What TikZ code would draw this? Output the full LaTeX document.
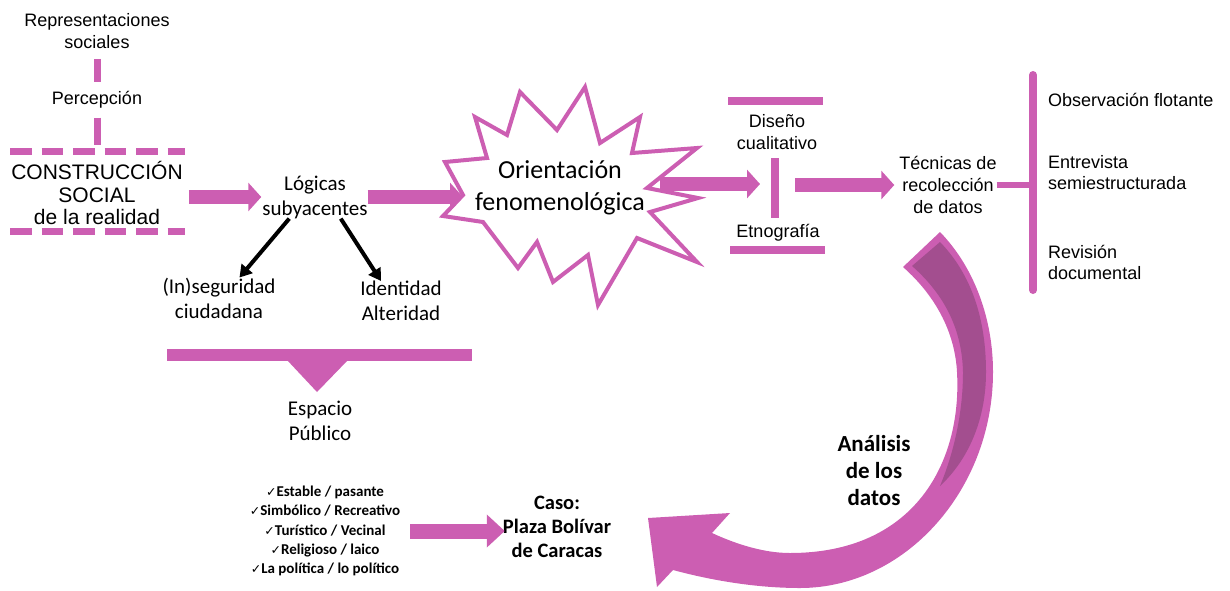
\documentclass[tikz,border=0pt]{standalone}
\usepackage{fontspec}
\setmainfont{Liberation Sans}
\newfontfamily\calib{Carlito}
\newfontfamily\simb{DejaVu Sans}
\usetikzlibrary{arrows.meta,calc}

\definecolor{rosa}{RGB}{204,94,178}
\definecolor{rosaosc}{RGB}{163,78,143}
\newcommand{\chk}{{\simb\fontsize{12.5}{12.5}\selectfont ✓}}

\tikzset{
  txt/.style={inner sep=0pt, align=center, font=\fontsize{18}{22}\selectfont},
  ctxt/.style={inner sep=0pt, align=center, font=\calib\fontsize{21}{25}\selectfont},
  flecharosa/.style={draw=rosa, line width=14pt, -{Triangle[length=13pt,width=28pt]}},
  flecharosab/.style={draw=rosa, line width=15pt, -{Triangle[length=18pt,width=32pt]}},
  flechanegra/.style={draw=black, line width=4pt, -{Triangle[length=12pt,width=14pt]}},
  barrarosa/.style={draw=rosa, line width=7pt},
}

\begin{document}
\begin{tikzpicture}[x=1pt,y=1pt,yscale=-1]
\useasboundingbox (0,0) rectangle (1230,590);

% Text Node
\node[txt] (repr) at (97,31) {Representaciones\\sociales};
% Text Node
\node[txt] (perc) at (97,100) {Percepción};
% Text Node
\node[txt, font=\fontsize{21}{22.5}\selectfont] (cons) at (97,193) {CONSTRUCCIÓN\\SOCIAL\\de la realidad};

%Straight Lines
\draw[barrarosa, shorten <=10pt, shorten >=9pt] (repr.south) -- (perc.north);
\draw[barrarosa, shorten <=9pt, shorten >=16pt] (perc.south) -- (cons.north);
\draw[rosa, line width=7pt, dash pattern=on 21.5pt off 10pt] (10,151) -- (185,151);
\draw[rosa, line width=7pt, dash pattern=on 21.5pt off 10pt] (10,231) -- (185,231);

% Text Node
\node[ctxt] (logicas) at (315,197) {Lógicas\\subyacentes};
% Text Node
\node[ctxt] (inseg) at (219,298) {(In)seguridad\\ciudadana};
% Text Node
\node[ctxt] (ident) at (401,301) {Identidad\\Alteridad};
% Text Node
\node[ctxt] (espacio) at (320,421) {Espacio\\Público};

%Shape: Brace
\fill[rosa] (167,349) rectangle (472,361);
\fill[rosa] (287,360) -- (348,360) -- (317,392) -- cycle;

%Straight Lines
\draw[flecharosa] ($(cons.east |- logicas.west)+(6,0)$) -- ($(logicas.west)+(-1,0)$);
\draw[flechanegra] (logicas.-140) -- (inseg.45);
\draw[flechanegra] (logicas.-40) -- (ident.135);

%Shape: Explosion
\coordinate (estrellaL) at (463,195);
\coordinate (estrellaR) at (660,184);
\draw[rosa, line width=4pt, fill=white, line join=miter]
  (585,87) -- (600,143) -- (640,117) -- (632,153) -- (697,148) -- (647,188)
  -- (698,198) -- (650,212) -- (697,262) -- (637,238) -- (598,305) -- (588,255)
  -- (553,282) -- (537,242) -- (518,268) -- (483,222) -- (443,216) -- (463,195)
  -- (445,162) -- (487,158) -- (475,117) -- (507,135) -- (520,92) -- (557,130) -- cycle;
\draw[flecharosa] (logicas.east) -- (estrellaL |- logicas.east);
% Text Node
\node[ctxt, font=\calib\fontsize{26}{32}\selectfont] (orient) at (560,188) {Orientación\\fenomenológica};

% Text Node
\node[txt] (diseno) at (777,132) {Diseño\\cualitativo};
% Text Node
\node[txt] (etno) at (778,233) {Etnografía};
\coordinate (barra) at (775,185);
\draw[rosa, line width=8pt] (728,101) -- (823,101);
\draw[rosa, line width=8pt] (730,250) -- (825,250);
\draw[rosa, line width=8pt] (barra |- 0,158) -- (barra |- 0,218);
\draw[flecharosa] (estrellaR) -- ($(barra |- estrellaR)+(-15,0)$);

% Text Node
\node[txt] (tecnicas) at (948,185) {Técnicas de\\recolección\\de datos};
\draw[flecharosa] ($(barra)+(20,0)$) -- ($(tecnicas.west)+(-5,0)$);
\coordinate (llave) at (1033,185);
\draw[rosa, line width=6pt] (tecnicas.east) -- (llave);
\draw[rosa, line width=8pt, line cap=round] (llave |- 0,75) -- (llave |- 0,290);

% Text Node
\node[txt, anchor=west, font=\fontsize{18}{21}\selectfont] (obs) at (1048,100) {Observación flotante};
% Text Node
\node[txt, anchor=west, align=left, font=\fontsize{18}{21}\selectfont] (entrev) at (1048,173) {Entrevista\\semiestructurada};
% Text Node
\node[txt, anchor=west, align=left, font=\fontsize{18}{21}\selectfont] (revis) at (1048,262) {Revisión\\documental};

%Shape: Curved Arrow
\fill[rosa] (940,232) .. controls (975,268) and (993,320) .. (993,372)
  .. controls (993,490) and (905,588) .. (800,588)
  .. controls (755,588) and (710,580) .. (673,570)
  -- (657,587) -- (648,518) -- (730,513) -- (712,533)
  .. controls (738,545) and (765,553) .. (790,553)
  .. controls (915,553) and (962,462) .. (957,372)
  .. controls (955,335) and (938,298) .. (903,267) -- cycle;
\fill[rosaosc] (912,266) -- (940,242) .. controls (972,275) and (986,320) .. (986,372)
  .. controls (986,420) and (968,460) .. (940,486)
  .. controls (955,450) and (963,410) .. (963,372)
  .. controls (962,330) and (945,295) .. (912,266) -- cycle;

% Text Node
\node[inner sep=0pt, align=center, font=\calib\bfseries\fontsize{23}{27}\selectfont] (analisis) at (874,471) {Análisis\\de los\\datos};

% Text Node
\node[inner sep=0pt, align=center, font=\calib\bfseries\fontsize{15}{19.3}\selectfont] (lista) at (325,531)
  {\chk Estable / pasante\\\chk Simbólico / Recreativo\\\chk Turístico / Vecinal\\\chk Religioso / laico\\\chk La política / lo político};
% Text Node
\node[inner sep=0pt, align=center, font=\calib\bfseries\fontsize{20.5}{24}\selectfont] (caso) at (557,527) {Caso:\\Plaza Bolívar\\de Caracas};
\draw[flecharosab] ($(lista.east)+(10,0)$) -- ($(caso.west |- lista.east)+(2,0)$);

\end{tikzpicture}
\end{document}
